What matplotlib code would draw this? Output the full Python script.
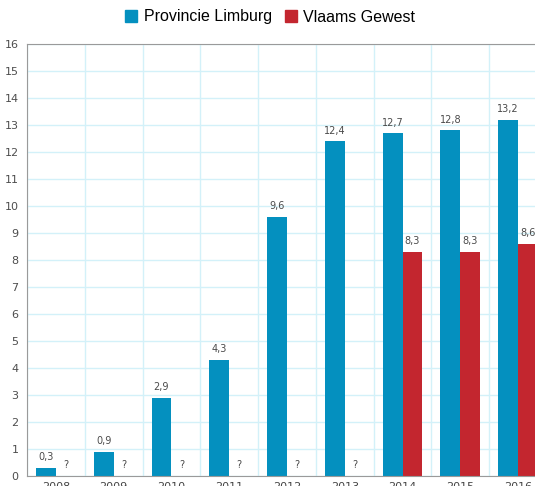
import numpy as np
import matplotlib
matplotlib.use("Agg")
import matplotlib.pyplot as plt
from matplotlib.patches import Patch

years = ["2008", "2009", "2010", "2011", "2012", "2013", "2014", "2015", "2016"]
limburg = [0.3, 0.9, 2.9, 4.3, 9.6, 12.4, 12.7, 12.8, 13.2]
vlaanderen = [None, None, None, None, None, None, 8.3, 8.3, 8.6]

BLUE = "#0490bf"
RED = "#c3262f"
GRID = "#d3f1f9"

def fmt(v):
    return ("%.1f" % v).replace(".", ",")

fig = plt.figure(figsize=(5.35, 4.86), dpi=100)
ax = fig.add_axes([27 / 535, 10 / 486, 520 / 535, 432 / 486])

x = np.arange(len(years))
w = 0.345

ax.bar(x - w / 2, limburg, w, color=BLUE, zorder=2)
red_vals = [v if v is not None else 0 for v in vlaanderen]
ax.bar(x + w / 2, red_vals, w, color=RED, zorder=2)

# value labels above the bars, "?" where the value is missing
for i, v in enumerate(limburg):
    ax.annotate(fmt(v), (x[i] - w / 2, v), xytext=(0, 4), textcoords="offset points",
                ha="center", va="bottom", fontsize=7, color="#4a4a4a")
for i, v in enumerate(vlaanderen):
    txt = fmt(v) if v is not None else "?"
    ax.annotate(txt, (x[i] + w / 2, red_vals[i]), xytext=(0, 4), textcoords="offset points",
                ha="center", va="bottom", fontsize=7, color="#4a4a4a")

ax.set_xlim(-0.5, len(years) - 0.5)
ax.set_ylim(0, 16)
ax.set_yticks(np.arange(0, 17, 1))
ax.set_xticks(x)
ax.set_xticklabels(years)

# grid: horizontal at each unit, vertical at category boundaries
ax.set_axisbelow(True)
ax.yaxis.grid(True, color=GRID, linewidth=1)
ax.set_xticks(np.arange(-0.5, len(years), 1), minor=True)
ax.xaxis.grid(True, which="minor", color=GRID, linewidth=1)

for s in ["left", "top", "bottom"]:
    ax.spines[s].set_color("#9a9a9a")
ax.spines["right"].set_visible(False)
ax.tick_params(axis="y", length=0, pad=6, labelsize=8, labelcolor="#4d4d4d")
ax.tick_params(axis="x", length=0, pad=4, labelsize=8, labelcolor="#444444")
ax.tick_params(axis="x", which="minor", length=0)

handles = [Patch(color=BLUE, label="Provincie Limburg"), Patch(color=RED, label="Vlaams Gewest")]
fig.legend(handles=handles, loc="center", bbox_to_anchor=(0.505, 1 - 17 / 486), ncol=2,
           frameon=False, handlelength=0.75, handleheight=0.75,
           handletextpad=0.4, columnspacing=0.8, prop={"family": "Liberation Sans", "size": 11.5})

fig.savefig("out.png", dpi=100)
